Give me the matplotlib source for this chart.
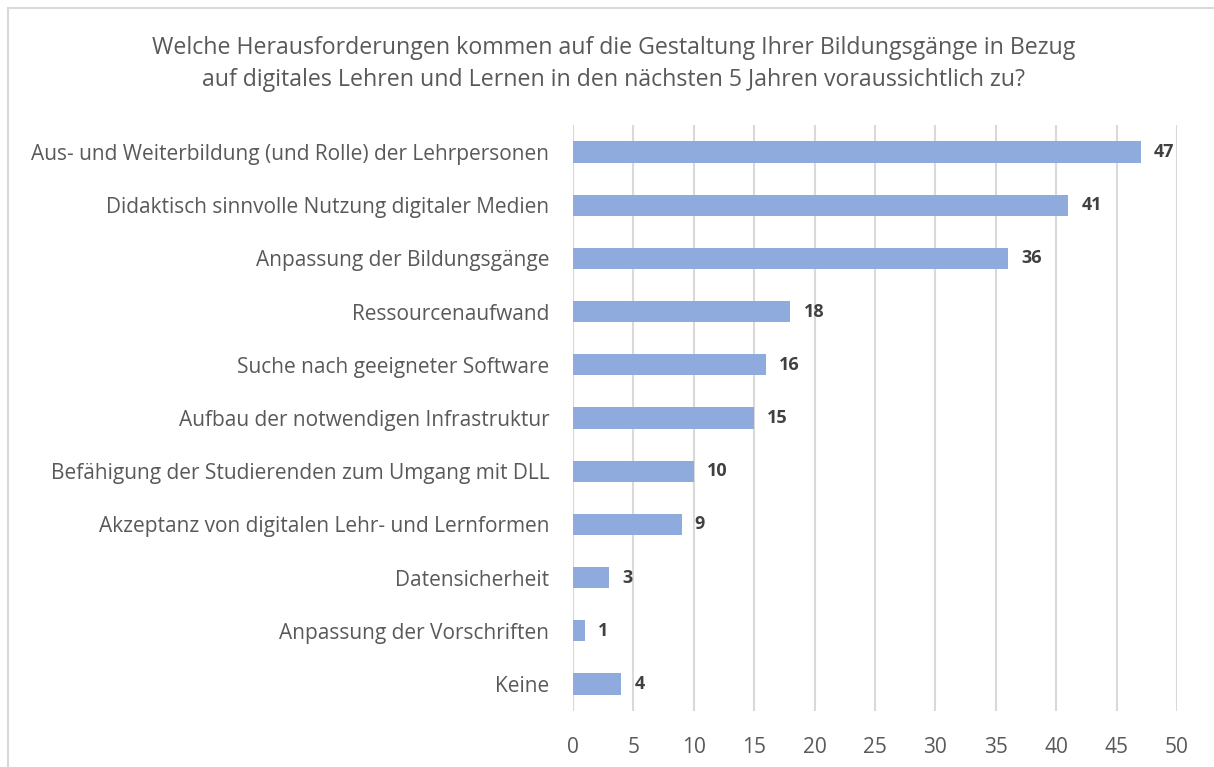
import matplotlib
matplotlib.use("Agg")
import matplotlib.pyplot as plt
from matplotlib.patches import Rectangle

categories = [
    "Aus- und Weiterbildung (und Rolle) der Lehrpersonen",
    "Didaktisch sinnvolle Nutzung digitaler Medien",
    "Anpassung der Bildungsgänge",
    "Ressourcenaufwand",
    "Suche nach geeigneter Software",
    "Aufbau der notwendigen Infrastruktur",
    "Befähigung der Studierenden zum Umgang mit DLL",
    "Akzeptanz von digitalen Lehr- und Lernformen",
    "Datensicherheit",
    "Anpassung der Vorschriften",
    "Keine",
]
values = [47, 41, 36, 18, 16, 15, 10, 9, 3, 1, 4]
x_ticks = [0, 5, 10, 15, 20, 25, 30, 35, 40, 45, 50]
title = ("Welche Herausforderungen kommen auf die Gestaltung Ihrer Bildungsgänge in Bezug\n"
         "auf digitales Lehren und Lernen in den nächsten 5 Jahren voraussichtlich zu?")

plt.rcParams['font.family'] = ['Open Sans', 'DejaVu Sans']

W, H = 1214, 767
fig = plt.figure(figsize=(W / 100, H / 100), dpi=100)
ax = fig.add_axes([573 / W, 1 - 710.6 / H, (1177 - 573) / W, (710.6 - 125.4) / H])

bar_color = "#8FAADC"
text_color = "#595959"
grid_color = "#D9D9D9"

ypos = list(range(len(categories)))
ax.barh(ypos, values, height=0.4, color=bar_color, zorder=3)
ax.set_ylim(len(categories) - 0.5, -0.5)
ax.set_xlim(0, 50)
ax.set_xticks(x_ticks)
ax.set_xticklabels([str(t) for t in x_ticks])
ax.set_yticks(ypos)
ax.set_yticklabels(categories)

for y, v in zip(ypos, values):
    ax.annotate(str(v), xy=(v, y), xytext=(13, 0), textcoords="offset pixels",
                ha="left", va="center", fontsize=13, fontweight="bold",
                color="#404040", zorder=4)

ax.grid(axis="x", color=grid_color, linewidth=1.5, zorder=0)
for s in ax.spines.values():
    s.set_visible(False)
ax.axvline(0, color=grid_color, linewidth=1.5, zorder=2)
ax.tick_params(axis="both", length=0, colors=text_color, labelsize=15)
ax.tick_params(axis="y", pad=17)
ax.tick_params(axis="x", pad=19)

fig.text(614 / W, 1 - 64 / H, title, ha="center", va="center",
         fontsize=16.7, color=text_color, linespacing=1.45)

fig.patches.append(Rectangle((8 / W, -0.05), 1.1, 1 - 7.5 / H + 0.05,
                             transform=fig.transFigure, fill=False,
                             edgecolor="#D9D9D9", linewidth=1.5))

fig.savefig("out.png", dpi=100, facecolor="white")
